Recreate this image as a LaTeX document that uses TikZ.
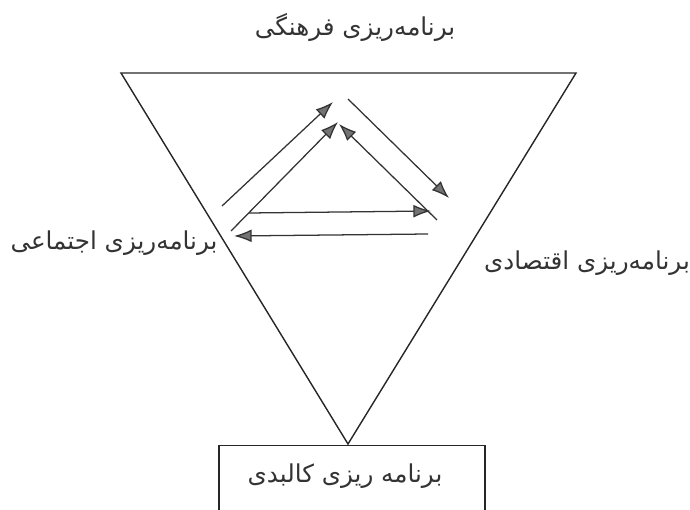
\documentclass[tikz,border=0pt]{standalone}
\usepackage{fontspec}
\newfontfamily\farsifont[Script=Arabic]{DejaVu Sans}
\TeXXeTstate=1
\usetikzlibrary{arrows.meta,positioning}

\begin{document}
\begin{tikzpicture}[x=0.025cm, y=-0.025cm, every node/.style={font=\farsifont\fontsize{17.5}{20}\selectfont}]
\tikzset{label/.style={inner sep=0pt, text=black!80}}
\tikzset{box/.style={draw, line width=1pt, black!85, minimum width=6.65cm, minimum height=1.9cm, anchor=north, inner sep=0pt}}
\tikzset{arrow/.style={-{Latex[length=4.4mm, width=3.2mm, fill=black!55]}, line width=0.9pt, black!80}}
\clip (0,0) rectangle (690,510);
% triangle corners
\coordinate (tl) at (121,73);
\coordinate (tr) at (576,73);
\coordinate (apex) at (348,444);
\draw[line width=1pt, black!85] (tl) -- (tr) -- (apex) -- cycle;
% labels
\node[label] (farhangi) at (355,27) {\beginR برنامه‌ریزی فرهنگی\endR};
\node[label] (ejtemaei) at (114,243) {\beginR برنامه‌ریزی اجتماعی\endR};
\node[label] (eghtesadi) at (587,263) {\beginR برنامه‌ریزی اقتصادی\endR};
\node[box] (kalbadi) at (352,445) {};
\node[label] (kalbaditxt) at (345,476) {\beginR برنامه ریزی کالبدی\endR};
% arrow ends
\coordinate (a1s) at (222,206); \coordinate (a1e) at (333,102);
\coordinate (a2s) at (231,231); \coordinate (a2e) at (338,122);
\coordinate (a3s) at (348,99);  \coordinate (a3e) at (449,198);
\coordinate (a4s) at (437,220); \coordinate (a4e) at (339,124);
\coordinate (a5s) at (249,213); \coordinate (a5e) at (431,211);
\coordinate (a6s) at (428,234); \coordinate (a6e) at (234,236);
\draw[arrow] (a1s) -- (a1e);
\draw[arrow] (a2s) -- (a2e);
\draw[arrow] (a3s) -- (a3e);
\draw[arrow] (a4s) -- (a4e);
\draw[arrow] (a5s) -- (a5e);
\draw[arrow] (a6s) -- (a6e);
\end{tikzpicture}
\end{document}
